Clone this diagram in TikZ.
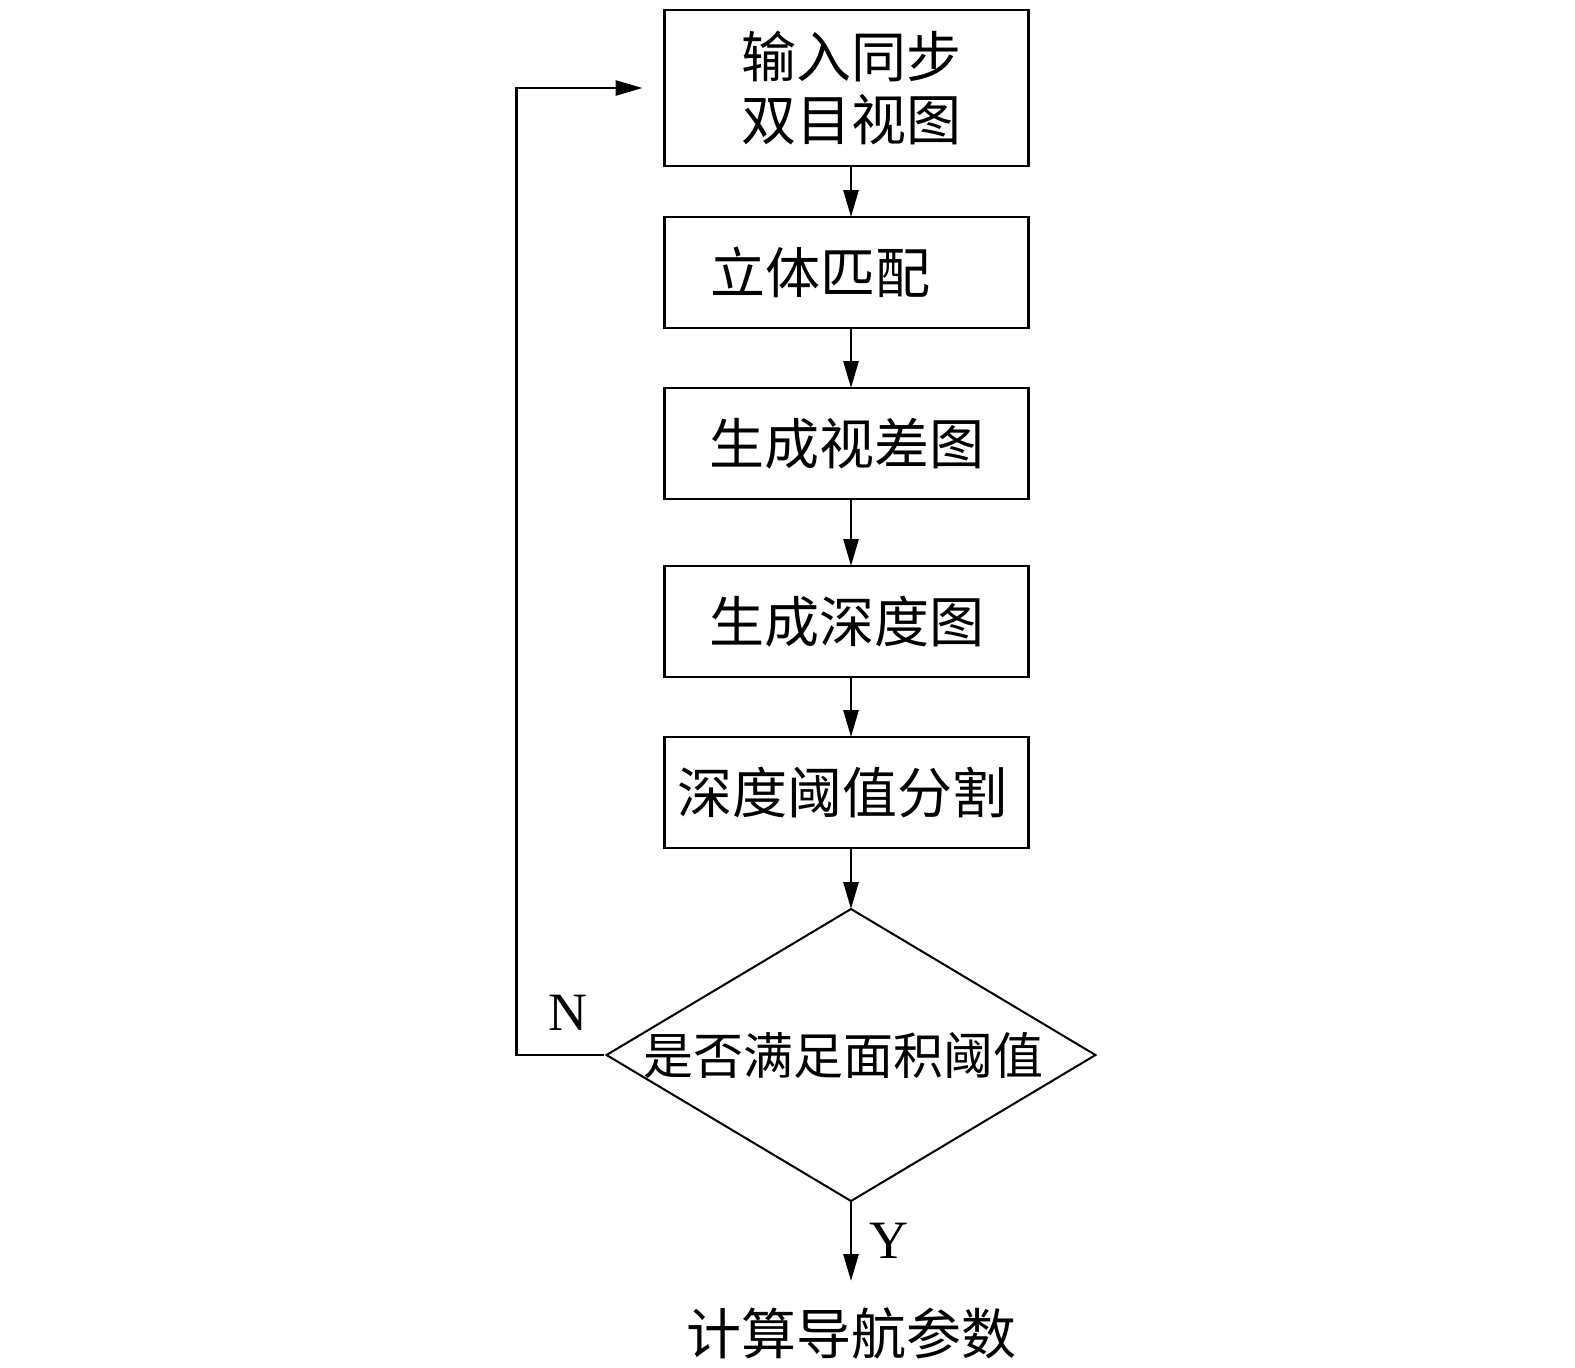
\documentclass[tikz,border=0pt]{standalone}
\usepackage{fontspec}
\setmainfont{Liberation Serif}
\newfontfamily\cjk{Noto Sans CJK SC}
\usetikzlibrary{shapes.geometric, arrows.meta, positioning}

\begin{document}
\begin{tikzpicture}[
		x=0.5pt, y=-0.5pt,
		font=\cjk\fontsize{27.5pt}{31.5pt}\selectfont,
		block/.style={rectangle, draw, line width=1.4pt, align=center, outer sep=0pt,
			inner sep=0pt, minimum width=182pt, minimum height=55.5pt},
		decision/.style={diamond, draw, line width=1pt, aspect=1.675, outer sep=0pt,
			inner sep=0pt, minimum width=244.5pt, minimum height=146pt,
			font=\cjk\fontsize{25pt}{30pt}\selectfont},
		lbl/.style={font=\rmfamily\fontsize{27pt}{30pt}\selectfont, inner sep=0pt},
		line/.style={-{Triangle[length=13.5pt, width=7.5pt]}, line width=1.35pt}
		]
		\useasboundingbox (0,0) rectangle (1575,1367);
		
		% 1. Columna principal
		\node[block, minimum height=78pt] (input) at (846.5,88) {\kern5pt输入同步\\\kern5pt双目视图};
		\node[block, below=25.5pt of input] (match) {立体匹配\kern26pt};
		\node[block, below=30pt of match] (disp) {生成视差图};
		\node[block, below=33.5pt of disp] (depth) {生成深度图};
		\node[block, below=30pt of depth] (seg) {深度阈值分割\kern4pt};
		\node[decision, inner xsep=-4pt] (dec) at (851,1055) {是否满足面积阈值\kern8pt};
		\node[inner sep=0pt, below=53pt of dec] (nav) {计算导航参数};
		
		% 2. Conexiones
		\draw[line] (input.south -| dec) -- (match.north -| dec);
		\draw[line] (match.south -| dec) -- (disp.north -| dec);
		\draw[line] (disp.south -| dec) -- (depth.north -| dec);
		\draw[line] (depth.south -| dec) -- (seg.north -| dec);
		\draw[line] (seg.south -| dec) -- (dec.north);
		\draw[line, shorten >=13pt] (dec.south) -- (dec.south |- nav.north);
		
		% 3. Realimentación
		\draw[line, shorten >=11pt] ([xshift=-1.5pt]dec.west)
		-| ([xshift=-74pt]input.west) -- (input.west);
		
		\node[lbl] (no) at ([xshift=-19.5pt, yshift=21pt]dec.west) {N};
		\node[lbl] (yes) at ([xshift=19pt, yshift=-20pt]dec.south) {Y};
		
	\end{tikzpicture}
\end{document}
